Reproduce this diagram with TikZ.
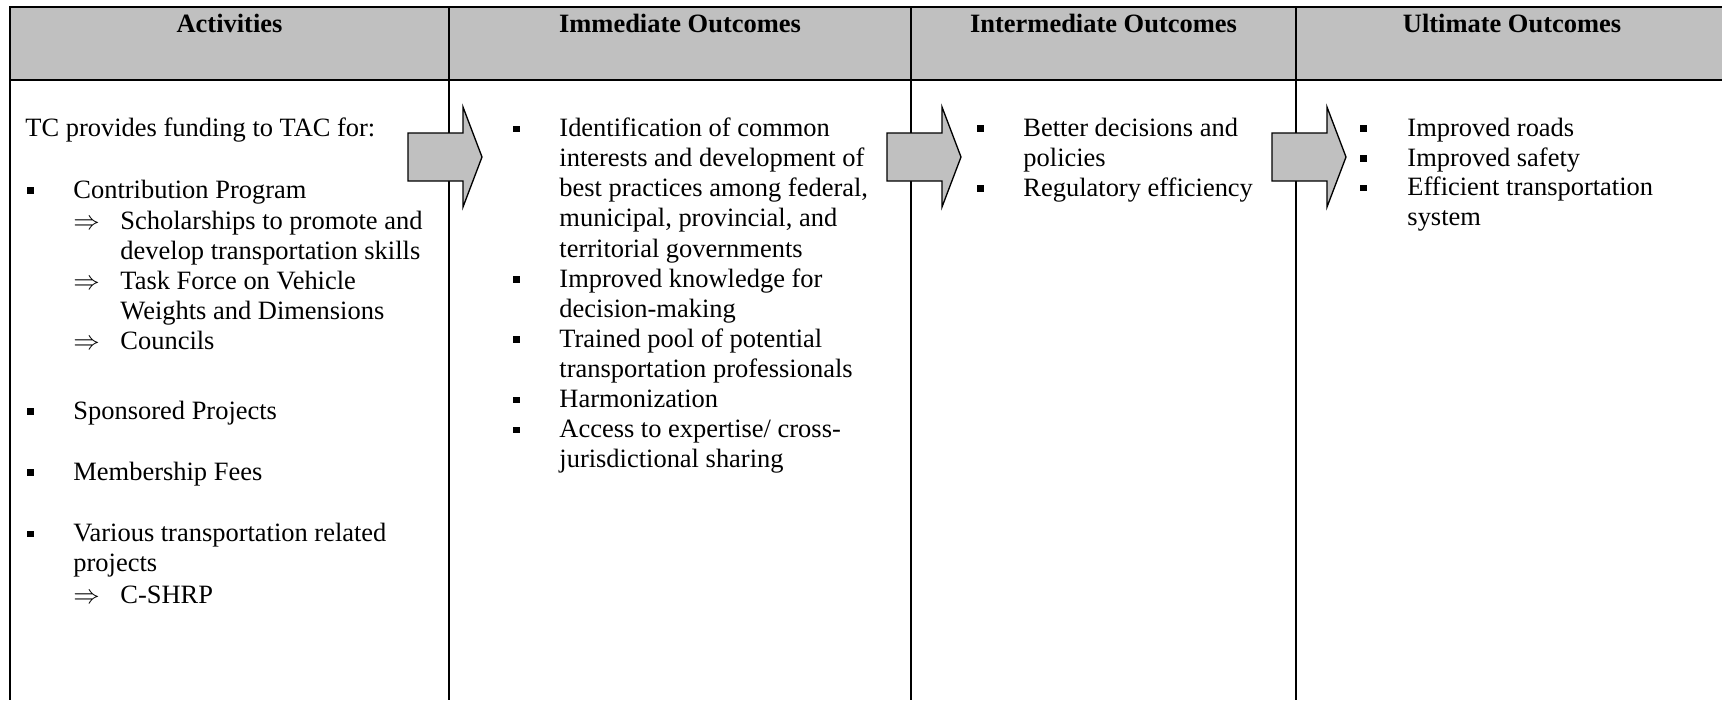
\documentclass[tikz,border=0pt]{standalone}
\usepackage{fontspec}
\setmainfont{Liberation Serif}
\usepackage{amsmath}
\newcommand{\cellstack}[1]{\begin{tabular}[t]{@{}l@{}}#1\end{tabular}}
\newcommand{\imp}{$\Rightarrow$}

\begin{document}
\begin{tikzpicture}[x=1.594cm, y=-1.594cm,
    every node/.style={inner sep=0pt, font=\fontsize{12}{13.65}\selectfont},
    txt/.style={anchor=base west},
    hdr/.style={anchor=base, font=\fontsize{12}{13.65}\selectfont\bfseries},
    frame/.style={line width=1.25pt},
    sep/.style={line width=0.95pt},
    blockarrow/.style={fill=hdrgray, draw=black, line width=0.6pt, line join=miter}]
  \definecolor{hdrgray}{RGB}{192,192,192}

  \useasboundingbox (0,0) rectangle (17.22,7.00);

  % header band and rules
  \fill[hdrgray] (0.10,0.07) rectangle (17.22,0.80);
  \draw[frame] (17.22,0.07) -- (0.10,0.07) -- (0.10,7.00);
  \draw[frame] (0.10,0.80) -- (17.22,0.80);
  \foreach \x in {4.49,9.11,12.96}
    \draw[sep] (\x,0.07) -- (\x,7.00);

  \node[hdr] (hact) at (2.295,0.32) {Activities};
  \node[hdr] (himm) at (6.80,0.32) {Immediate Outcomes};
  \node[hdr] (hint) at (11.035,0.32) {Intermediate Outcomes};
  \node[hdr] (hult) at (15.12,0.32) {Ultimate Outcomes};

  % arrows between the columns
  \foreach \x in {4.08,8.87,12.72}
    \filldraw[blockarrow] (\x,1.33) -- ++(0.55,0) -- ++(0,-0.26) -- ++(0.19,0.50)
      -- ++(-0.19,0.50) -- ++(0,-0.26) -- ++(-0.55,0) -- cycle;

  % square bullets
  \foreach \x/\y in {0.27/1.98, 0.27/4.19, 0.27/4.80, 0.27/5.415,
                     5.13/1.367, 5.13/2.872, 5.13/3.474, 5.13/4.076, 5.13/4.377,
                     9.77/1.36, 9.77/1.96,
                     13.60/1.36, 13.60/1.66, 13.60/1.955}
    \fill (\x,{\y-0.043}) rectangle ++(0.067,-0.067);

  % activities
  \node[txt] (tc) at (0.25,1.365) {TC provides funding to TAC for:};
  \node[txt] (contrib) at (0.73,1.98) {Contribution Program};
  \node[txt] (imp1) at (0.73,2.29) {\imp};
  \node[txt] (schol) at (1.20,2.29) {\cellstack{Scholarships to promote and\\develop transportation skills}};
  \node[txt] (imp2) at (0.73,2.895) {\imp};
  \node[txt] (task) at (1.20,2.895) {\cellstack{Task Force on Vehicle\\Weights and Dimensions}};
  \node[txt] (imp3) at (0.73,3.495) {\imp};
  \node[txt] (counc) at (1.20,3.495) {Councils};
  \node[txt] (spons) at (0.73,4.19) {Sponsored Projects};
  \node[txt] (fees) at (0.73,4.80) {Membership Fees};
  \node[txt] (various) at (0.73,5.415) {\cellstack{Various transportation related\\projects}};
  \node[txt] (imp4) at (0.73,6.03) {\imp};
  \node[txt] (cshrp) at (1.20,6.03) {C-SHRP};

  % immediate outcomes
  \node[txt] (ident) at (5.59,1.367) {\cellstack{Identification of common\\interests and development of\\best practices among federal,\\municipal, provincial, and\\territorial governments}};
  \node[txt] (know) at (5.59,2.872) {\cellstack{Improved knowledge for\\decision-making}};
  \node[txt] (pool) at (5.59,3.474) {\cellstack{Trained pool of potential\\transportation professionals}};
  \node[txt] (harm) at (5.59,4.076) {Harmonization};
  \node[txt] (access) at (5.59,4.377) {\cellstack{Access to expertise/ cross-\\jurisdictional sharing}};

  % intermediate outcomes
  \node[txt] (better) at (10.23,1.36) {\cellstack{Better decisions and\\policies}};
  \node[txt] (regul) at (10.23,1.96) {Regulatory efficiency};

  % ultimate outcomes
  \node[txt] (roads) at (14.07,1.36) {Improved roads};
  \node[txt] (safety) at (14.07,1.66) {Improved safety};
  \node[txt] (effic) at (14.07,1.955) {\cellstack{Efficient transportation\\system}};
\end{tikzpicture}
\end{document}
